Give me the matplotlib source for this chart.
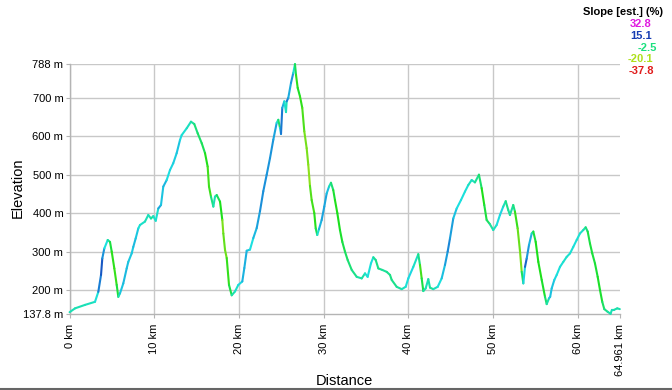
import numpy as np
import matplotlib
matplotlib.use("Agg")
import matplotlib.pyplot as plt
from matplotlib.collections import LineCollection
from matplotlib.lines import Line2D
import colorsys

plt.rcParams['font.family'] = ['Liberation Sans', 'DejaVu Sans']

# ---------------- data ----------------
dist_km = [0, 0.64, 1.82, 3.0, 3.39, 3.71, 3.86, 4.10, 4.50, 4.77,
           4.97, 5.28, 5.56, 5.75, 5.95, 6.34, 6.74, 6.93, 7.33, 7.52,
           7.80, 8.11, 8.31, 8.90, 9.29, 9.61, 9.88, 10.17, 10.47, 10.79,
           11.06, 11.46, 11.85, 12.24, 12.64, 13.03, 13.23, 13.83, 14.33, 14.72,
           15.12, 15.60, 15.99, 16.30, 16.46, 16.69, 16.97, 17.17, 17.37, 17.76,
           18.03, 18.15, 18.35, 18.55, 18.82, 19.14, 19.53, 19.92, 20.39, 20.63,
           20.91, 21.30, 21.69, 22.09, 22.48, 22.87, 23.27, 23.66, 24.05, 24.45,
           24.64, 24.84, 24.96, 25.11, 25.35, 25.55, 25.63, 25.82, 26.14, 26.41,
           26.61, 26.73, 26.93, 27.20, 27.47, 27.71, 27.99, 28.18, 28.38, 28.58,
           28.89, 29.06, 29.24, 29.44, 29.76, 30.07, 30.35, 30.63, 30.86, 31.13,
           31.33, 31.61, 31.92, 32.20, 32.51, 32.83, 33.31, 33.90, 34.49, 34.88,
           35.19, 35.58, 35.86, 36.14, 36.45, 36.92, 37.44, 37.83, 38.03, 38.62,
           39.21, 39.68, 39.99, 40.58, 41.17, 41.37, 41.57, 41.76, 42.04, 42.35,
           42.55, 42.94, 43.46, 43.93, 44.32, 44.64, 44.91, 45.30, 45.70, 46.21,
           46.68, 47.07, 47.47, 47.86, 48.33, 48.65, 48.96, 49.24, 49.63, 50.02,
           50.42, 50.81, 51.20, 51.49, 51.79, 51.99, 52.38, 52.58, 52.90, 53.18,
           53.38, 53.57, 53.77, 53.97, 54.24, 54.56, 54.75, 55.03, 55.34, 55.74,
           56.13, 56.33, 56.60, 56.74, 56.92, 57.23, 57.51, 57.90, 58.29, 58.69,
           59.08, 59.47, 59.87, 60.26, 60.65, 60.93, 61.17, 61.44, 61.71, 62.03,
           62.35, 62.62, 62.89, 63.13, 63.53, 63.87, 64.03, 64.27, 64.66, 64.961]

elev_m = [142, 152, 161, 169, 195, 239, 282, 308, 330, 325,
          300, 256, 213, 182, 191, 217, 256, 273, 295, 312,
          334, 360, 369, 378, 395, 386, 392, 380, 412, 421,
          469, 486, 512, 530, 556, 590, 603, 621, 638, 632,
          608, 582, 556, 521, 469, 443, 417, 443, 447, 430,
          382, 347, 304, 283, 213, 186, 196, 213, 222, 257,
          302, 305, 335, 361, 405, 457, 500, 543, 591, 635,
          643, 622, 606, 674, 691, 663, 691, 700, 739, 765,
          788, 760, 726, 704, 674, 613, 569, 526, 471, 434,
          400, 360, 343, 358, 382, 417, 451, 469, 479, 460,
          434, 400, 356, 325, 300, 278, 252, 234, 230, 243,
          234, 269, 285, 278, 256, 252, 247, 239, 226, 208,
          202, 208, 230, 260, 293, 265, 230, 197, 204, 228,
          206, 202, 208, 230, 265, 300, 334, 386, 412, 434,
          456, 473, 486, 480, 500, 465, 421, 382, 371, 356,
          369, 395, 417, 431, 408, 395, 421, 404, 360, 300,
          247, 217, 260, 282, 317, 347, 352, 325, 273, 226,
          182, 163, 178, 182, 204, 226, 239, 260, 273, 286,
          295, 312, 330, 347, 356, 363, 352, 321, 295, 269,
          234, 200, 169, 150, 143, 137.8, 148, 148, 152, 150]

x_ticks = [0, 10, 20, 30, 40, 50, 60, 64.961]
x_tick_labels = ["0 km", "10 km", "20 km", "30 km", "40 km", "50 km", "60 km", "64.961 km"]
y_ticks = [137.8, 200, 300, 400, 500, 600, 700, 788]
y_tick_labels = ["137.8 m", "200 m", "300 m", "400 m", "500 m", "600 m", "700 m", "788 m"]

legend_title = "Slope [est.] (%)"
legend_values = [32.8, 15.1, -2.5, -20.1, -37.8]
legend_labels = ["32.8", "15.1", "-2.5", "-20.1", "-37.8"]
slope_min, slope_max = -37.8, 32.8


def slope_color(s):
    t = float(np.clip((s - slope_min) / (slope_max - slope_min), 0, 1))
    hdeg = t * 300.0
    v = 0.88 - 0.22 * np.exp(-((hdeg - 235.0) / 22.0) ** 2)
    sat = 0.88
    return colorsys.hsv_to_rgb(hdeg / 360.0, sat, v)


d = np.array(dist_km, dtype=float)
e = np.array(elev_m, dtype=float)
n = len(d)
seg_slope = []
for i in range(n - 1):
    a = max(i - 1, 0)
    b = min(i + 2, n - 1)
    seg_slope.append((e[b] - e[a]) / (d[b] - d[a]) / 10.0)
# coarse sampling changes the slope spread; calibrate visually toward reference
seg_colors = [slope_color(3.0 + 0.8 * (s - 3.0)) for s in seg_slope]

# ---------------- figure ----------------
W, H = 672, 390
fig = plt.figure(figsize=(W / 100, H / 100), dpi=100)
fig.patch.set_facecolor('white')
ax = fig.add_axes([69.6 / W, 1 - 313.8 / H, (619.8 - 69.6) / W, (313.8 - 64.1) / H])

pts = np.column_stack([d, e]).reshape(-1, 1, 2)
segs = np.concatenate([pts[:-1], pts[1:]], axis=1)
lc = LineCollection(segs, colors=seg_colors, linewidths=1.5,
                    capstyle='round', joinstyle='round', zorder=3)
lc.set_clip_on(False)
ax.add_collection(lc)

ax.set_xlim(0, x_ticks[-1])
ax.set_ylim(y_ticks[0], y_ticks[-1])
ax.set_xticks(x_ticks)
ax.set_xticklabels(x_tick_labels, rotation=90, fontsize=8)
ax.set_yticks(y_ticks)
ax.set_yticklabels(y_tick_labels, fontsize=8)

gc = '#c8c8c8'
ax.grid(True, color=gc, linewidth=1.0, zorder=0)
ax.get_xgridlines()[-1].set_visible(False)
ax.get_ygridlines()[0].set_visible(False)
for side in ['right', 'top']:
    ax.spines[side].set_visible(False)
for side in ['left', 'bottom']:
    ax.spines[side].set_color('#b4b4b4')
    ax.spines[side].set_linewidth(1.0)
ax.tick_params(axis='both', color='#b4b4b4', length=3)
ax.tick_params(axis='y', pad=1.5)
ax.tick_params(axis='x', pad=4)

fig.text(18 / W, 1 - 188 / H, "Elevation", rotation=90, ha='center', va='center', fontsize=10.5)
fig.text(344 / W, 1 - 381 / H, "Distance", ha='center', va='center', fontsize=10.5)

fig.text(663 / W, 1 - 12 / H, legend_title, ha='right', va='center', fontsize=8, fontweight='bold')
leg_x = [652, 652, 657, 653, 654]
leg_y = [24, 36, 48, 59, 71]
for val, lab, lx, ly in zip(legend_values, legend_labels, leg_x, leg_y):
    fig.text(lx / W, 1 - ly / H, lab, ha='right', va='center', fontsize=8,
             fontweight='bold', color=slope_color(val))

fig.add_artist(Line2D([0, 1], [0.8 / H, 0.8 / H], color='#666666', linewidth=1.5,
                      transform=fig.transFigure))

fig.savefig("out.png", dpi=100)
